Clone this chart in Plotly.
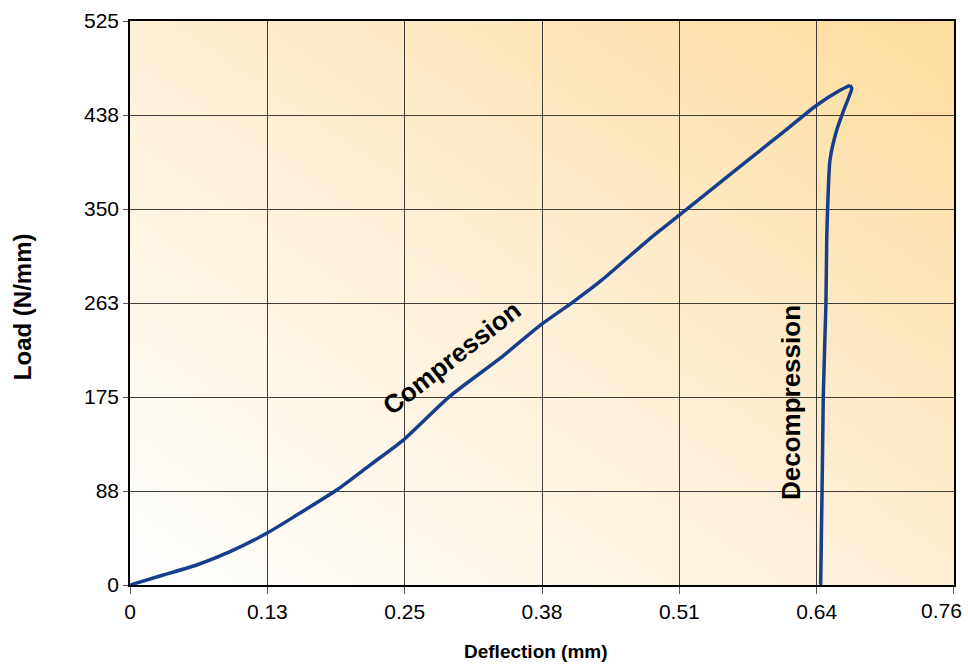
import base64, struct, zlib
import numpy as np
import plotly.graph_objects as go

# ---- data ----
comp_x = [0.0, 0.0308, 0.0617, 0.0925, 0.1264, 0.1542, 0.1911, 0.2219, 0.2527, 0.2959,
          0.3421, 0.3807, 0.4099, 0.4362, 0.4808, 0.5077, 0.5579, 0.6041, 0.6350, 0.6566, 0.6658]
comp_y = [0.0, 9.3, 18.6, 31.0, 48.1, 65.1, 88.4, 111.6, 134.9, 175.8,
          210.9, 242.8, 263.6, 283.7, 322.5, 344.0, 384.5, 421.5, 446.6, 460.5, 465.2]
decomp_x = [0.6658, 0.6674, 0.6612, 0.6535, 0.6473, 0.6452, 0.6443, 0.6436, 0.6411, 0.6387, 0.6385]
decomp_y = [465.2, 462.1, 445.0, 423.3, 395.4, 351.9, 322.5, 263.3, 174.9, 0.9, 0.0]

x_ticks = [0, 0.127, 0.254, 0.381, 0.508, 0.635, 0.762]
x_tick_labels = ["0", "0.13", "0.25", "0.38", "0.51", "0.64", "0.76"]
y_ticks = [0, 87.5, 175, 262.5, 350, 437.5, 525]
y_tick_labels = ["0", "88", "175", "263", "350", "438", "525"]

X_MAX = 0.762
Y_MAX = 525

# ---- gradient background as PNG data URI ----
def gradient_png(w=240, h=170):
    u = np.linspace(0, 1, w)[None, :]
    v = np.linspace(1, 0, h)[:, None]
    t = (u + v) / 2.0
    stops_t = [0.0, 0.5, 1.0]
    cols = np.array([[255, 255, 255], [254, 240, 214], [253, 221, 157]], float)
    img = np.zeros((h, w, 3))
    for c in range(3):
        img[..., c] = np.interp(t, stops_t, cols[:, c])
    img = img.astype(np.uint8)
    raw = b"".join(b"\x00" + img[r].tobytes() for r in range(h))
    def chunk(tag, data):
        c = struct.pack(">I", len(data)) + tag + data
        return c + struct.pack(">I", zlib.crc32(tag + data) & 0xffffffff)
    png = b"\x89PNG\r\n\x1a\n" + chunk(b"IHDR", struct.pack(">IIBBBBB", w, h, 8, 2, 0, 0, 0)) \
        + chunk(b"IDAT", zlib.compress(raw, 9)) + chunk(b"IEND", b"")
    return "data:image/png;base64," + base64.b64encode(png).decode()

line_color = "rgb(22,62,140)"
font = "Liberation Sans, Arial, Helvetica, sans-serif"

fig = go.Figure()
fig.add_trace(go.Scatter(x=comp_x, y=comp_y, mode="lines",
                         line=dict(color=line_color, width=3.5, shape="spline", smoothing=0.6),
                         hoverinfo="skip", showlegend=False))
fig.add_trace(go.Scatter(x=decomp_x, y=decomp_y, mode="lines",
                         line=dict(color=line_color, width=3.5, shape="spline", smoothing=0.6),
                         hoverinfo="skip", showlegend=False))

fig.add_layout_image(dict(source=gradient_png(), xref="x", yref="y", x=0, y=Y_MAX,
                          sizex=X_MAX, sizey=Y_MAX, sizing="stretch", layer="below",
                          xanchor="left", yanchor="top"))

fig.add_annotation(x=0.2975, y=211, text="<b>Compression</b>", textangle=-38,
                   showarrow=False, font=dict(size=26, color="black", family=font))
fig.add_annotation(x=0.6119, y=170, text="<b>Decompression</b>", textangle=-90,
                   showarrow=False, font=dict(size=26, color="black", family=font))

# axis titles
fig.add_annotation(xref="paper", yref="paper", x=(535.5 - 130) / 824, y=-(652 - 585) / 564.3,
                   text="<b>Deflection (mm)</b>", showarrow=False, xanchor="center", yanchor="middle",
                   font=dict(size=19, color="black", family=font))
fig.add_annotation(xref="paper", yref="paper", x=-(130 - 22) / 824, y=(585 - 307) / 564.3,
                   text="<b>Load (N/mm)</b>", showarrow=False, xanchor="center", yanchor="middle",
                   textangle=-90, font=dict(size=24, color="black", family=font))

axis_common = dict(showgrid=True, gridcolor="rgba(30,30,30,0.85)", gridwidth=1,
                   showline=True, linecolor="black", linewidth=1.5, mirror=True,
                   ticks="outside", tickcolor="rgb(90,90,90)",
                   tickfont=dict(size=21, color="black", family=font), zeroline=False)

# the last x label sits shifted left (inside the page) in the reference: draw it as an annotation
x_text = x_tick_labels[:-1] + [""]
fig.update_xaxes(range=[0, X_MAX * 1.00001], tickvals=x_ticks, ticktext=x_text,
                 ticklen=7, ticklabelstandoff=0, **axis_common)
fig.update_yaxes(range=[0, Y_MAX * 1.00001], tickvals=y_ticks, ticktext=y_tick_labels,
                 ticklen=5, ticklabelstandoff=0, **axis_common)
fig.add_annotation(xref="paper", yref="paper", x=(964 - 130) / 824, y=-(611 - 585) / 564.3,
                   text=x_tick_labels[-1], showarrow=False, xanchor="right", yanchor="middle",
                   font=dict(size=21, color="black", family=font))

fig.update_layout(width=968, height=666, margin=dict(l=130, r=14, t=21, b=81, autoexpand=False),
                  paper_bgcolor="white", plot_bgcolor="rgba(0,0,0,0)")

fig.write_html("out.html", config={"displayModeBar": False})
with open("out.html", "r", encoding="utf-8") as f:
    html = f.read()
html = html.replace("<head>", "<head><style>html,body{margin:0;padding:0;overflow:hidden;}</style>", 1)
with open("out.html", "w", encoding="utf-8") as f:
    f.write(html)
